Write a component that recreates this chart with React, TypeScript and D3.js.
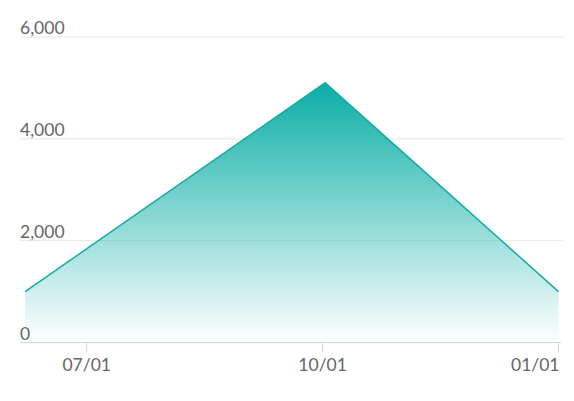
import React from "react";
import * as d3 from "d3";

const dates = ["2023-06-07", "2023-10-02", "2024-01-01"];
const values = [1000, 5100, 1000];
const yTicks = [0, 2000, 4000, 6000];
const xTickDates = ["2023-07-01", "2023-10-01", "2024-01-01"];

const W = 574, H = 401;

export default function App() {
  const parse = d3.timeParse("%Y-%m-%d");
  const data = dates.map((d, i) => ({ date: parse(d)!, value: values[i] }));
  const x = d3.scaleTime()
    .domain([parse("2023-07-01")!, parse("2024-01-01")!])
    .range([86.7, 558.5]);
  const y = d3.scaleLinear().domain([0, 6000]).range([342.5, 37]);
  const area = d3.area<any>().x(d => x(d.date)).y0(y(0)).y1(d => y(d.value));
  const line = d3.line<any>().x(d => x(d.date)).y(d => y(d.value));
  const fmt = d3.format(",");
  const tf = d3.timeFormat("%m/%d");
  const peak = d3.max(values)!;
  return (
    <svg width={W} height={H} style={{ position: "absolute", left: 0, top: 0, fontFamily: "Lato, sans-serif" }}>
      <defs>
        <linearGradient id="g" gradientUnits="userSpaceOnUse" x1={0} x2={0} y1={y(peak)} y2={y(0)}>
          <stop offset="0" stopColor="#0aaea5" stopOpacity={1} />
          <stop offset="1" stopColor="#0aaea5" stopOpacity={0} />
        </linearGradient>
      </defs>
      {yTicks.filter(t => t > 0).map(t => (
        <line key={t} x1={20} x2={563} y1={y(t)} y2={y(t)} stroke="#e6e6e6" strokeWidth={1} />
      ))}
      <path d={area(data)!} fill="url(#g)" />
      <path d={line(data)!} fill="none" stroke="#16aaa2" strokeWidth={1.5} />
      <line x1={20} x2={561} y1={y(0)} y2={y(0)} stroke="#ccd6eb" strokeWidth={1} />
      {yTicks.map(t => (
        <text key={t} x={20} y={y(t) - 3} fontSize={17.5} fill="#666">{fmt(t)}</text>
      ))}
      {xTickDates.map((d, i) => {
        const xx = x(parse(d)!);
        const last = i === xTickDates.length - 1;
        return (
          <g key={d}>
            <line x1={xx} x2={xx} y1={y(0)} y2={y(0) + 10} stroke="#ccd6eb" />
            <text x={last ? xx + 1 : xx} y={371} fontSize={17.5} fill="#666" textAnchor={last ? "end" : "middle"}>{tf(parse(d)!)}</text>
          </g>
        );
      })}
    </svg>
  );
}
